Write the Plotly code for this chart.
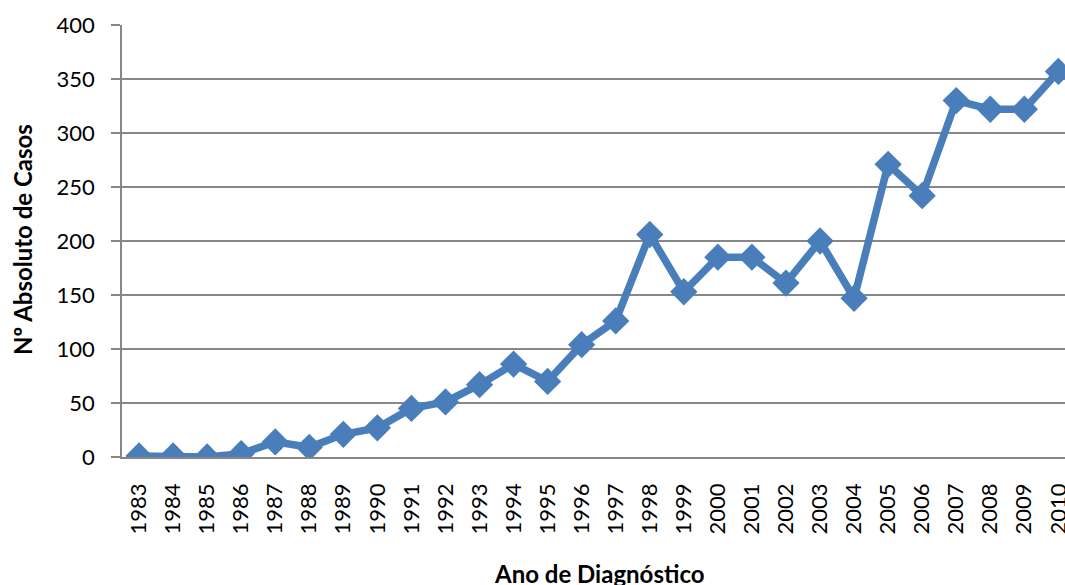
import plotly.graph_objects as go

years = [str(y) for y in range(1983, 2011)]
cases = [1, 1, 0, 3, 14, 9, 21, 27, 45, 51, 67, 86, 70, 104, 126, 206,
         153, 185, 185, 161, 200, 147, 271, 242, 330, 322, 322, 357]
y_ticks = [0, 50, 100, 150, 200, 250, 300, 350, 400]

W, H = 1065, 585
L, T = 122, 25
B = H - 457
cat_w = 34.05

fig = go.Figure()
fig.add_trace(go.Scatter(
    x=list(range(len(years))), y=cases, mode="lines+markers",
    line=dict(color="#4A7EBB", width=7.5),
    marker=dict(symbol="diamond", size=21, color="#4A7EBB"),
    cliponaxis=True, showlegend=False,
))

plot_w = W - L
plot_h = H - T - B
x_max = -0.5 + plot_w / cat_w

def px_x(px):
    return (px - L) / plot_w

def px_y(py):
    return ((H - B) - py) / plot_h

fig.update_layout(
    width=W, height=H,
    margin=dict(l=L, r=0, t=T, b=B, autoexpand=False),
    paper_bgcolor="white", plot_bgcolor="white",
    font=dict(family="Lato, Open Sans, sans-serif", color="#000000"),
    xaxis=dict(
        range=[-0.5, x_max], tickmode="array",
        tickvals=list(range(len(years))), ticktext=years,
        tickangle=-90, tickfont=dict(size=22), ticks="",
        ticklabelstandoff=16, ticklabeloverflow="allow", automargin=False,
        showgrid=False, zeroline=False,
        showline=True, linecolor="#868686", linewidth=1.5,
    ),
    yaxis=dict(
        range=[0, 400], tickvals=y_ticks, tickfont=dict(size=22),
        ticks="outside", ticklen=9, tickcolor="#868686", tickwidth=1.5,
        ticklabelstandoff=12, automargin=False,
        showgrid=True, gridcolor="#878787", gridwidth=1.5,
        zeroline=False, showline=True, linecolor="#868686", linewidth=1.5,
    ),
    annotations=[
        dict(
            text="<b>Ano de Diagnóstico</b>", xref="paper", yref="paper",
            x=px_x(599), y=px_y(573),
            xanchor="center", yanchor="middle", showarrow=False,
            font=dict(size=24),
        ),
        dict(
            text="<b>Nº Absoluto de Casos</b>", xref="paper", yref="paper",
            x=px_x(22), y=px_y(240),
            xanchor="center", yanchor="middle", showarrow=False,
            textangle=-90, font=dict(size=24),
        ),
    ],
)

fig.write_html(
    "out.html",
    config={"displayModeBar": False},
    post_script="document.body.style.margin='0';document.body.style.overflow='hidden';",
)
